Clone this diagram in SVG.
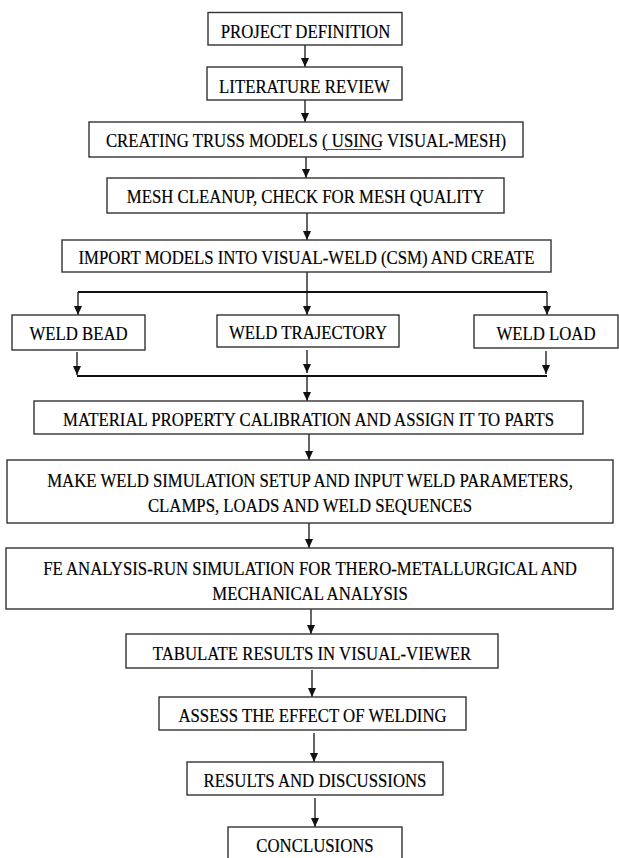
<svg xmlns="http://www.w3.org/2000/svg" width="619" height="858" viewBox="0 0 619 858">
<style>
.box{fill:#fff;stroke:#333;stroke-width:1.4}
.t{font-family:"Liberation Serif","Times New Roman",serif;font-size:19.5px;fill:#000;stroke:#000;stroke-width:0.2;text-anchor:middle}
.c{stroke:#111;stroke-width:1.3;fill:none}
.bus{stroke:#111;stroke-width:2;fill:none}
</style>
<defs>
<marker id="ah" markerUnits="userSpaceOnUse" markerWidth="9" markerHeight="9" refX="9" refY="4" orient="auto">
<path d="M0,0 L9,4 L0,8 z" fill="#111"/>
</marker>
</defs>
<rect width="619" height="858" fill="#fff"/>
<g id="connectors">
<line class="c" x1="305" y1="45" x2="305" y2="67" marker-end="url(#ah)"/>
<line class="c" x1="305" y1="100" x2="305" y2="122" marker-end="url(#ah)"/>
<line class="c" x1="306" y1="157" x2="306" y2="178" marker-end="url(#ah)"/>
<line class="c" x1="307" y1="213" x2="307" y2="240" marker-end="url(#ah)"/>
<line class="c" x1="307" y1="272" x2="307" y2="315" marker-end="url(#ah)"/>
<line class="bus" x1="78" y1="292" x2="547" y2="292"/>
<line class="c" x1="78" y1="292" x2="78" y2="315" marker-end="url(#ah)"/>
<line class="c" x1="547" y1="292" x2="547" y2="315" marker-end="url(#ah)"/>
<line class="c" x1="77" y1="352" x2="77" y2="375" marker-end="url(#ah)"/>
<line class="c" x1="307" y1="350" x2="307" y2="373" marker-end="url(#ah)"/>
<line class="c" x1="546" y1="351" x2="546" y2="374" marker-end="url(#ah)"/>
<line class="bus" x1="77" y1="376" x2="547" y2="376"/>
<line class="c" x1="307" y1="376" x2="307" y2="401" marker-end="url(#ah)"/>
<line class="c" x1="309" y1="434" x2="309" y2="460" marker-end="url(#ah)"/>
<line class="c" x1="309" y1="523" x2="309" y2="548" marker-end="url(#ah)"/>
<line class="c" x1="311" y1="609" x2="311" y2="634" marker-end="url(#ah)"/>
<line class="c" x1="312" y1="670" x2="312" y2="697" marker-end="url(#ah)"/>
<line class="c" x1="314" y1="733" x2="314" y2="762" marker-end="url(#ah)"/>
<line class="c" x1="315" y1="798" x2="315" y2="827" marker-end="url(#ah)"/>
</g>
<g id="n1"><rect class="box" x="208" y="12.5" width="194" height="32.5"/><text class="t" transform="translate(305.5 38) scale(0.86 1)">PROJECT DEFINITION</text></g>
<g id="n2"><rect class="box" x="207" y="67" width="195" height="33"/><text class="t" transform="translate(304.5 92.5) scale(0.86 1)">LITERATURE REVIEW</text></g>
<g id="n3"><rect class="box" x="89" y="122" width="434" height="35"/><text class="t" transform="translate(306 147) scale(0.86 1)">CREATING TRUSS MODELS ( USING VISUAL-MESH)</text><line x1="323" y1="149.5" x2="381" y2="149.5" stroke="#3a4a90" stroke-width="1"/></g>
<g id="n4"><rect class="box" x="107" y="178" width="397" height="35"/><text class="t" transform="translate(305.5 203) scale(0.86 1)">MESH CLEANUP, CHECK FOR MESH QUALITY</text></g>
<g id="n5"><rect class="box" x="62" y="240" width="489" height="32"/><text class="t" transform="translate(306.5 264) scale(0.86 1)">IMPORT MODELS INTO VISUAL-WELD (CSM) AND CREATE</text></g>
<g id="n6"><rect class="box" x="12" y="315" width="133" height="35"/><text class="t" transform="translate(78.5 340) scale(0.86 1)">WELD BEAD</text></g>
<g id="n7"><rect class="box" x="217" y="315" width="182" height="32"/><text class="t" transform="translate(308 339) scale(0.86 1)">WELD TRAJECTORY</text></g>
<g id="n8"><rect class="box" x="474" y="315" width="144" height="33"/><text class="t" transform="translate(546 340) scale(0.86 1)">WELD LOAD</text></g>
<g id="n9"><rect class="box" x="34" y="401" width="549" height="33"/><text class="t" transform="translate(308.5 426) scale(0.86 1)">MATERIAL PROPERTY CALIBRATION AND ASSIGN IT TO PARTS</text></g>
<g id="n10"><rect class="box" x="7" y="460" width="606" height="63"/><text class="t" transform="translate(310 487) scale(0.86 1)">MAKE WELD SIMULATION SETUP AND INPUT WELD PARAMETERS,</text><text class="t" transform="translate(310 511.5) scale(0.86 1)">CLAMPS, LOADS AND WELD SEQUENCES</text></g>
<g id="n11"><rect class="box" x="6" y="548" width="607" height="61"/><text class="t" transform="translate(310 574.5) scale(0.86 1)">FE ANALYSIS-RUN SIMULATION FOR THERO-METALLURGICAL AND</text><text class="t" transform="translate(310 600) scale(0.86 1)">MECHANICAL ANALYSIS</text></g>
<g id="n12"><rect class="box" x="126" y="634" width="372" height="34"/><text class="t" transform="translate(312 659.5) scale(0.86 1)">TABULATE RESULTS IN VISUAL-VIEWER</text></g>
<g id="n13"><rect class="box" x="159" y="697" width="307" height="33"/><text class="t" transform="translate(312.5 722) scale(0.86 1)">ASSESS THE EFFECT OF WELDING</text></g>
<g id="n14"><rect class="box" x="187" y="762" width="256" height="33"/><text class="t" transform="translate(315 787) scale(0.86 1)">RESULTS AND DISCUSSIONS</text></g>
<g id="n15"><rect class="box" x="228" y="827" width="174" height="40"/><text class="t" transform="translate(315 852) scale(0.86 1)">CONCLUSIONS</text></g>
</svg>
